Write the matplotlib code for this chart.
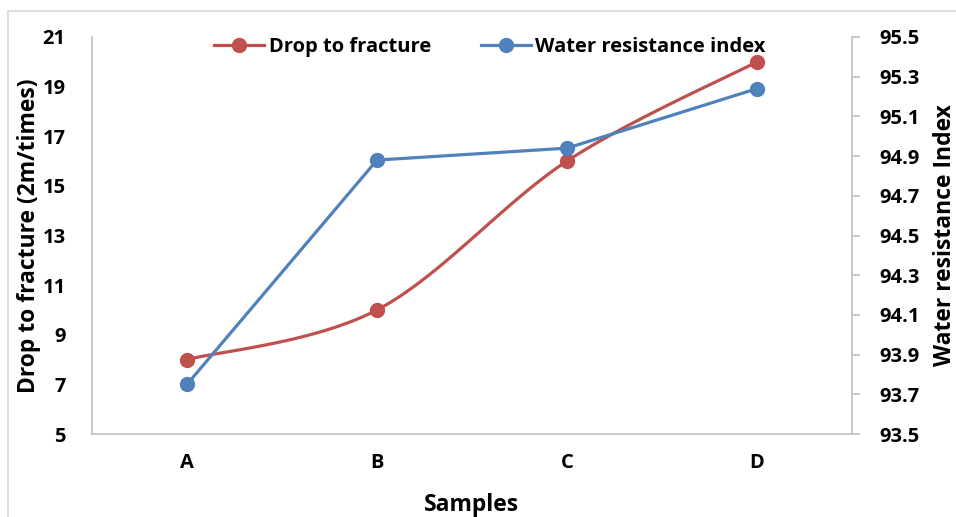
import matplotlib
matplotlib.use("Agg")
import matplotlib.pyplot as plt
import matplotlib.patches as mpatches
import numpy as np

samples = ['A', 'B', 'C', 'D']
drop_to_fracture = [8, 10, 16, 20]
water_resistance = [93.75, 94.88, 94.94, 95.24]

left_ticks = [5, 7, 9, 11, 13, 15, 17, 19, 21]
right_ticks = [93.5, 93.7, 93.9, 94.1, 94.3, 94.5, 94.7, 94.9, 95.1, 95.3, 95.5]

RED = '#C0504D'
BLUE = '#4F81BD'
GRID = '#BFBFBF'

plt.rcParams['font.family'] = ['Open Sans', 'DejaVu Sans']
plt.rcParams['font.weight'] = 'bold'


def smooth(x, y, n=40):
    # Catmull-Rom, roughly what Excel does for "smoothed line"
    x = np.asarray(x, float)
    y = np.asarray(y, float)
    px = np.concatenate([[x[0]], x, [x[-1]]])
    py = np.concatenate([[y[0]], y, [y[-1]]])
    xs, ys = [], []
    t = np.linspace(0, 1, n)
    for i in range(1, len(px) - 2):
        for p, out in ((px, xs), (py, ys)):
            p0, p1, p2, p3 = p[i - 1], p[i], p[i + 1], p[i + 2]
            out.extend(0.5 * ((2 * p1) + (-p0 + p2) * t
                              + (2 * p0 - 5 * p1 + 4 * p2 - p3) * t ** 2
                              + (-p0 + 3 * p1 - 3 * p2 + p3) * t ** 3))
    return np.array(xs), np.array(ys)


fig = plt.figure(figsize=(9.56, 5.17), dpi=100)
fig.patches.append(mpatches.Rectangle((8 / 956, -0.1), 1.1, 1 - 11 / 517 + 0.1,
                                      transform=fig.transFigure, fill=False,
                                      edgecolor='#D9D9D9', linewidth=1.2))

ax = fig.add_axes([92 / 956, 1 - 434 / 517, 760 / 956, 397 / 517])
ax2 = ax.twinx()

x = np.arange(len(samples))

sx, sy = smooth(x, drop_to_fracture)
ax.plot(sx, sy, color=RED, linewidth=2.3, zorder=3)
ax.plot(x, drop_to_fracture, 'o', color=RED, markersize=10, zorder=4)
ax2.plot(x, water_resistance, '-o', color=BLUE, linewidth=2.3, markersize=10, zorder=3)

ax.set_xlim(-0.5, 3.5)
ax.set_ylim(5, 21)
ax2.set_ylim(93.5, 95.5)
ax.set_xticks(x)
ax.set_xticklabels(samples)
ax.set_yticks(left_ticks)
ax2.set_yticks(right_ticks)
ax2.set_yticklabels([f'{v:.1f}' for v in right_ticks])

for a in (ax, ax2):
    a.spines['top'].set_visible(False)
    for s in a.spines.values():
        s.set_color(GRID)
        s.set_linewidth(1.2)
ax.spines['right'].set_visible(False)
ax2.spines['left'].set_visible(False)
ax2.spines['bottom'].set_visible(False)

ax.tick_params(axis='x', length=0, pad=14, labelsize=14.5)
ax.tick_params(axis='y', length=0, pad=19, labelsize=14.5)
ax2.tick_params(axis='y', length=6, width=1.2, color=GRID, pad=14, labelsize=14.5)

ax.set_xlabel('Samples', fontsize=16.5, fontweight='bold', labelpad=14)
ax.set_ylabel('Drop to fracture (2m/times)', fontsize=16.5, fontweight='bold', labelpad=1)
ax2.set_ylabel('Water resistance Index', fontsize=16.5, fontweight='bold', labelpad=9)

handles = [plt.Line2D([], [], color=RED, linewidth=2.3, marker='o', markersize=10),
           plt.Line2D([], [], color=BLUE, linewidth=2.3, marker='o', markersize=10)]
fig.legend(handles, ['Drop to fracture', 'Water resistance index'],
           loc='center', bbox_to_anchor=(490 / 956, 1 - 47 / 517), ncol=2,
           frameon=False, fontsize=14.5, handlelength=2.5, handletextpad=0.2,
           columnspacing=2.5)

plt.savefig('out.png', dpi=100)
